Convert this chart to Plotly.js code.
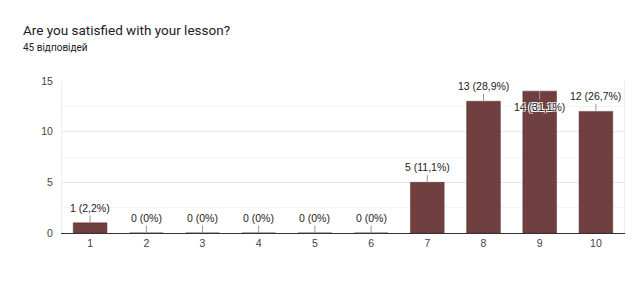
<!DOCTYPE html>
<html>
<head>
<meta charset="utf-8">
<script src="https://cdn.plot.ly/plotly-3.0.1.min.js"></script>
<style>html,body{margin:0;padding:0;background:#fff;}#chart{width:639px;height:293px;}</style>
</head>
<body>
<div id="chart"></div>
<script>
const categories = ["1","2","3","4","5","6","7","8","9","10"];
const counts = [1,0,0,0,0,0,5,13,14,12];
const percentLabels = ["2,2%","0%","0%","0%","0%","0%","11,1%","28,9%","31,1%","26,7%"];
const titleText = "Are you satisfied with your lesson?";
const subtitleText = "45 відповідей";
const yTicks = [0,5,10,15];

const plotTop = 81, plotBottom = 233, plotLeft = 62, plotRight = 624;
const W = 639, H = 293;
const ph = plotBottom - plotTop, pw = plotRight - plotLeft;
const yMax = 15;

const labelFont = {family: "Liberation Sans, Arial, sans-serif", size: 10.5, color: "#222",
  shadow: "1px 1px 0 #fff, -1px -1px 0 #fff, 1px -1px 0 #fff, -1px 1px 0 #fff"};

const annotations = categories.map((c, i) => {
  const v = counts[i];
  const topPx = plotBottom - v / yMax * ph;
  const below = topPx < plotTop + 14;
  return {
    x: i, y: v, xref: "x", yref: "y",
    text: v + " (" + percentLabels[i] + ")",
    showarrow: true, arrowhead: 0, arrowwidth: 1, arrowcolor: "#999",
    ax: 0, ay: below ? 16 : -15,
    font: labelFont
  };
});

annotations.push({
  xref: "paper", yref: "paper", x: (21 - plotLeft) / pw, y: (plotBottom - 30) / ph,
  xanchor: "left", yanchor: "middle", showarrow: false, text: titleText,
  font: {family: "Roboto, sans-serif", size: 13.5, color: "#202124"}
});
annotations.push({
  xref: "paper", yref: "paper", x: (21 - plotLeft) / pw, y: (plotBottom - 47) / ph,
  xanchor: "left", yanchor: "middle", showarrow: false, text: subtitleText,
  font: {family: "Roboto, sans-serif", size: 10, color: "#202124"}
});

const trace = {
  type: "bar", x: categories, y: counts,
  marker: {color: "#703f3f", line: {color: "#5a3030", width: 0.5}},
  width: 0.6, hoverinfo: "none"
};

const layout = {
  width: W, height: H,
  margin: {l: plotLeft, r: W - plotRight, t: plotTop, b: H - plotBottom, pad: 0},
  paper_bgcolor: "#fff", plot_bgcolor: "#fff",
  showlegend: false,
  xaxis: {
    type: "category", range: [-0.5, 9.5], showgrid: false, zeroline: false,
    showline: true, linecolor: "#333", linewidth: 1,
    ticks: "", tickfont: {family: "Liberation Sans, Arial, sans-serif", size: 10.5, color: "#444"}
  },
  yaxis: {
    range: [0, yMax], tickvals: yTicks, ticks: "",
    showgrid: true, gridcolor: "#e6e6e6", gridwidth: 1,
    minor: {dtick: 2.5, showgrid: true, gridcolor: "#f4f4f4", gridwidth: 1},
    zeroline: false, showline: true, linecolor: "#eeeeee", mirror: true,
    tickfont: {family: "Liberation Sans, Arial, sans-serif", size: 10.5, color: "#444"},
    ticklabelstandoff: 6
  },
  annotations: annotations
};

Plotly.newPlot("chart", [trace], layout, {staticPlot: true, displayModeBar: false});
</script>
</body>
</html>
